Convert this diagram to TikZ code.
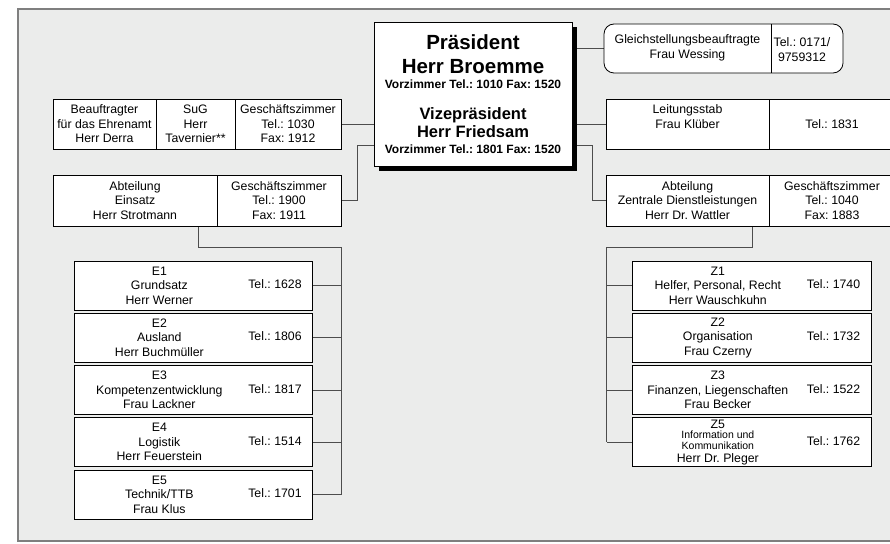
\documentclass[tikz,border=0pt]{standalone}
\usepackage{fontspec}
\setmainfont{Liberation Sans}
\frenchspacing
\usetikzlibrary{positioning,shadows,backgrounds}

\definecolor{panelgray}{HTML}{EBECEB}
\definecolor{panelline}{HTML}{7F7F7F}
\definecolor{linegray}{HTML}{4D4D4D}

\tikzstyle{line}=[draw, linegray, line width=0.9pt]
\tikzstyle{cell}=[draw, fill=white, line width=0.8pt, inner sep=0pt, outer sep=0pt, align=center, minimum height=50pt]
\tikzstyle{unit}=[draw, fill=white, line width=0.8pt, inner sep=0pt, outer sep=0pt, minimum width=238pt, minimum height=49pt]
\tikzstyle{bighead}=[anchor=base, font=\bfseries\fontsize{20.5}{24}\selectfont]
\tikzstyle{midhead}=[anchor=base, font=\bfseries\fontsize{16.5}{19}\selectfont]
\tikzstyle{smallhead}=[anchor=base, font=\bfseries\fontsize{12}{14}\selectfont]

\newcommand{\unittext}[2]{\parbox[c]{150pt}{\centering #1}\hspace{14pt}#2}

\begin{document}
\begin{tikzpicture}[x=1pt, y=-1pt, font=\fontsize{12.3}{14.5}\selectfont\frenchspacing]
    \useasboundingbox (0,0) rectangle (890,543);

    % Leitung
    \node[cell, minimum width=198pt, minimum height=144pt,
          general shadow={fill=black, shadow xshift=5pt, shadow yshift=-5pt}] (praes) at (473,94) {};
    \node[bighead] (ptitle) at (473,49) {Präsident};
    \node[bighead] (pname) at (473,73.5) {Herr Broemme};
    \node[smallhead] (ptel) at (473,88.3) {Vorzimmer Tel.: 1010 Fax: 1520};
    \node[midhead] (vtitle) at (473,119) {Vizepräsident};
    \node[midhead] (vname) at (473,137.7) {Herr Friedsam};
    \node[smallhead] (vtel) at (473,153) {Vorzimmer Tel.: 1801 Fax: 1520};

    % Stabsstellen rechts
    \node[cell, rounded corners=10pt, minimum width=239pt, minimum height=49pt] (gleich) at (723.5,48.5) {};
    \node[align=center] (gleichname) at (687.5,48) {Gleichstellungsbeauftragte\\Frau Wessing};
    \node[align=center] (gleichtel) at (802,49.5) {Tel.: 0171/\\9759312};
    \draw[line width=0.8pt] ([xshift=167pt]gleich.north west) -- ([xshift=167pt]gleich.south west);

    \node[cell, minimum width=163pt] (leit) at (687.5,124) {Leitungsstab\\Frau Klüber\\\vphantom{X}};
    \node[cell, minimum width=126pt, right=0pt of leit] (leittel) {Tel.: 1831};

    \node[cell, minimum width=163pt, minimum height=51pt] (zd) at (687.5,200.5) {Abteilung\\Zentrale Dienstleistungen\\Herr Dr. Wattler};
    \node[cell, minimum width=126pt, minimum height=51pt, right=0pt of zd] (zdgz) {Geschäftszimmer\\Tel.: 1040\\Fax: 1883};

    % Stabsstellen links
    \node[cell, minimum width=103pt] (ehr) at (104.5,124) {Beauftragter\\für das Ehrenamt\\Herr Derra};
    \node[cell, minimum width=79pt, right=0pt of ehr] (sug) {SuG\\Herr\\Tavernier**};
    \node[cell, minimum width=106pt, right=0pt of sug] (ehrgz) {Geschäftszimmer\\Tel.: 1030\\Fax: 1912};

    \node[cell, minimum width=164pt, minimum height=51pt] (einsatz) at (135,200.5) {Abteilung\\Einsatz\\Herr Strotmann};
    \node[cell, minimum width=124pt, minimum height=51pt, right=0pt of einsatz] (einsgz) {Geschäftszimmer\\Tel.: 1900\\Fax: 1911};

    % Referate E
    \node[unit] (e1) at (193,285.5) {\unittext{E1\\Grundsatz\\Herr Werner}{Tel.: 1628}};
    \node[unit, below=3.25pt of e1] (e2) {\unittext{E2\\Ausland\\Herr Buchmüller}{Tel.: 1806}};
    \node[unit, below=3.25pt of e2] (e3) {\unittext{E3\\Kompetenzentwicklung\\Frau Lackner}{Tel.: 1817}};
    \node[unit, below=3.25pt of e3] (e4) {\unittext{E4\\Logistik\\Herr Feuerstein}{Tel.: 1514}};
    \node[unit, below=3.25pt of e4] (e5) {\unittext{E5\\Technik/TTB\\Frau Klus}{Tel.: 1701}};

    % Referate Z
    \node[unit, minimum width=239pt] (z1) at (751.5,285.5) {\unittext{Z1\\Helfer, Personal, Recht\\Herr Wauschkuhn}{Tel.: 1740}};
    \node[unit, minimum width=239pt, below=3.25pt of z1] (z2) {\unittext{Z2\\Organisation\\Frau Czerny}{Tel.: 1732}};
    \node[unit, minimum width=239pt, below=3.25pt of z2] (z3) {\unittext{Z3\\Finanzen, Liegenschaften\\Frau Becker}{Tel.: 1522}};
    \node[unit, minimum width=239pt, below=3.25pt of z3] (z5) {\unittext{Z5\\[-2pt]{\fontsize{10.5}{12}\selectfont Information und\\[-3pt]Kommunikation}\\[-2pt]Herr Dr. Pleger}{Tel.: 1762}};

    \coordinate (ebus) at (341,247);
    \coordinate (zbus) at (606.5,247);

    \begin{scope}[on background layer]
        \path[fill=white] (0,0) rectangle (890,543);
        \path[draw=panelline, fill=panelgray, line width=1.2pt] (18,9) rectangle (900,541);

        \path[line] (praes.east |- gleich.west) -- (gleich.west);
        \path[line] (praes.east |- leit.west) -- (leit.west);
        \path[line] ([yshift=-51pt]praes.east) -- ++(20,0) |- (zd.west);
        \path[line] (ehrgz.east) -- (ehrgz.east -| praes.west);
        \path[line] ([yshift=-51pt]praes.west) -- ++(-17,0) |- (einsgz.east);

        \path[line] ([xshift=63pt]einsatz.south) |- (ebus) -- (ebus |- e5.east);
        \path[line] (e1.east) -- (e1.east -| ebus);
        \path[line] (e2.east) -- (e2.east -| ebus);
        \path[line] (e3.east) -- (e3.east -| ebus);
        \path[line] (e4.east) -- (e4.east -| ebus);
        \path[line] (e5.east) -- (e5.east -| ebus);

        \path[line] ([xshift=64.5pt]zd.south) |- (zbus) -- (zbus |- z5.west);
        \path[line] (z1.west) -- (z1.west -| zbus);
        \path[line] (z2.west) -- (z2.west -| zbus);
        \path[line] (z3.west) -- (z3.west -| zbus);
        \path[line] (z5.west) -- (z5.west -| zbus);
    \end{scope}
\end{tikzpicture}
\end{document}
